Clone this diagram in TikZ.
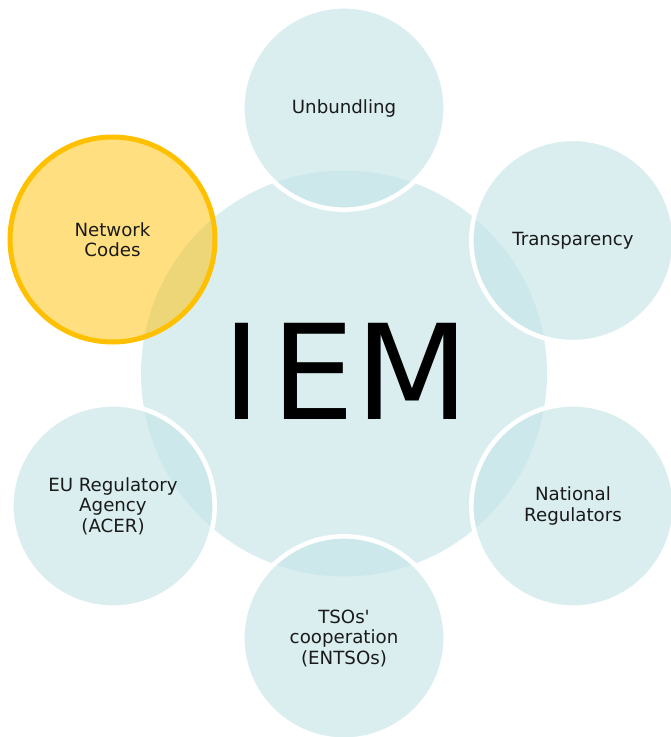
\documentclass[tikz,border=0pt]{standalone}
\usepackage{fontspec}
\setmainfont{DejaVu Sans}
\newcommand{\straightq}{{\addfontfeatures{Ligatures=TeXOff}'}}
\definecolor{bubblue}{RGB}{195,228,231}
\definecolor{bubgold}{RGB}{255,192,0}
\definecolor{txt}{RGB}{26,26,26}
\begin{document}
\begin{tikzpicture}[x=0.75pt,y=-0.75pt,
  lbl/.style={font=\fontsize{13.65}{15.4}\selectfont, text=txt, align=center, text opacity=1},
  hub/.style={circle, inner sep=0pt, minimum size=304.5pt, fill=bubblue, fill opacity=0.62},
  bub/.style={circle, inner sep=0pt, minimum size=152.5pt, fill=bubblue, fill opacity=0.62,
              draw=white, draw opacity=1, line width=3.4pt, lbl},
  hot/.style={circle, inner sep=0pt, minimum size=153.75pt, fill=bubgold, fill opacity=0.5,
              draw=bubgold, draw opacity=1, line width=3.75pt, lbl}]
\useasboundingbox (0,0) rectangle (670,737);
\node[hub] (hubc) at (344,373.5) {};
\node[bub] (unb) at (344,108) {Unbundling};
\node[bub] (tra) at (573,240.5) {Transparency};
\node[bub] (nat) at (573,506) {National\\Regulators};
\node[bub] (tso) at (344,638) {TSOs\straightq\\cooperation\\(ENTSOs)};
\node[bub] (acer) at (113,506) {EU Regulatory\\Agency\\(ACER)};
\node[hot] (nc) at (112.5,239.5) {Network\\Codes};
\node[anchor=base west, inner sep=0pt, font=\fontsize{99}{99}\selectfont, text=black] (iem) at (222,419) {I\kern8pt EM};
\end{tikzpicture}
\end{document}
